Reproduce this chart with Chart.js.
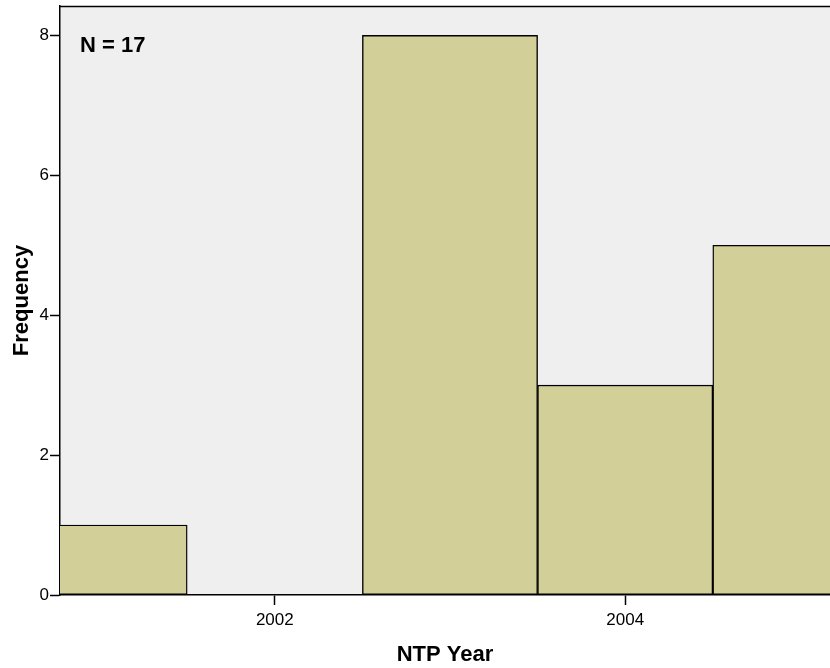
<!DOCTYPE html>
<html>
<head>
<meta charset="utf-8">
<script src="https://cdn.jsdelivr.net/npm/chart.js@4/dist/chart.umd.min.js"></script>
<style>
  html, body { margin: 0; padding: 0; background: #ffffff; }
  #wrap { width: 830px; height: 668px; }
</style>
</head>
<body>
<div id="wrap"><canvas id="hist-chart"></canvas></div>
<script>
// histogram bins (bin centre year) and counts
const years = [2001, 2002, 2003, 2004, 2005];
const counts = [1, 0, 8, 3, 5];
const yTicks = [0, 2, 4, 6, 8];
const xTicks = [2002, 2004];
const nLabel = "N = 17";

const fontFamily = "Arial, 'Liberation Sans', sans-serif";

points = [];
for (i = 0; i < years.length; i++) {
  points.push({ x: years[i], y: counts[i] });
}

const plotBackground = {
  id: 'plotBackground',
  beforeDraw(chart) {
    const ctx = chart.ctx;
    const a = chart.chartArea;
    ctx.save();
    ctx.fillStyle = '#efefef';
    ctx.fillRect(a.left, a.top, a.right - a.left, a.bottom - a.top);
    ctx.strokeStyle = '#000000';
    ctx.lineWidth = 1.5;
    ctx.beginPath();
    ctx.moveTo(a.left, a.top + 0.5);
    ctx.lineTo(a.right, a.top + 0.5);
    ctx.stroke();
    ctx.restore();
  },
  afterDraw(chart) {
    const ctx = chart.ctx;
    const a = chart.chartArea;
    ctx.save();
    ctx.fillStyle = '#000000';
    ctx.font = "bold 22px " + fontFamily;
    ctx.textBaseline = 'alphabetic';
    ctx.fillText(nLabel, a.left + 20, a.top + 46);
    ctx.restore();
  }
};

new Chart(document.getElementById("hist-chart"), {
  type: 'bar',
  data: {
    datasets: [{
      label: "Frequency",
      data: points,
      backgroundColor: "#d3cf98",
      borderColor: "#000000",
      borderWidth: 1.4,
      borderSkipped: false,
      barPercentage: 1,
      categoryPercentage: 1
    }]
  },
  options: {
    responsive: true,
    maintainAspectRatio: false,
    animation: false,
    layout: { padding: { top: 6, right: 0, bottom: 0, left: 0 } },
    plugins: {
      legend: { display: false },
      tooltip: { enabled: false }
    },
    scales: {
      x: {
        type: 'linear',
        offset: false,
        min: 2000.774,
        max: 2005.169,
        afterFit(scale) {
          scale.height = 73;
          scale.paddingLeft = 0;
          scale.paddingRight = 0;
        },
        afterBuildTicks(scale) {
          scale.ticks = xTicks.map(v => ({ value: v }));
        },
        ticks: {
          color: '#000000',
          font: { family: fontFamily, size: 17 },
          padding: 5,
          maxRotation: 0,
          includeBounds: false,
          callback: v => String(v)
        },
        grid: {
          offset: false,
          drawOnChartArea: false,
          drawTicks: true,
          tickLength: 10,
          tickWidth: 1.5,
          tickColor: '#000000'
        },
        border: { display: true, color: '#000000', width: 1.5 },
        title: {
          display: true,
          text: "NTP Year",
          color: '#000000',
          font: { family: fontFamily, size: 22, weight: 'bold' },
          padding: { top: 0, bottom: 0 }
        }
      },
      y: {
        min: 0,
        max: 8.42,
        afterFit(scale) {
          scale.width = 60;
          scale.paddingTop = 0;
          scale.paddingBottom = 0;
        },
        afterBuildTicks(scale) {
          scale.ticks = yTicks.map(v => ({ value: v }));
        },
        ticks: {
          color: '#000000',
          font: { family: fontFamily, size: 17 },
          padding: 1,
          includeBounds: false
        },
        grid: {
          drawOnChartArea: false,
          drawTicks: true,
          tickLength: 10,
          tickWidth: 1.5,
          tickColor: '#000000'
        },
        border: { display: true, color: '#000000', width: 1.5 },
        title: {
          display: true,
          text: "Frequency",
          color: '#000000',
          font: { family: fontFamily, size: 22, weight: 'bold' },
          padding: { top: 9, bottom: 0 }
        }
      }
    }
  },
  plugins: [plotBackground]
});
</script>
</body>
</html>
